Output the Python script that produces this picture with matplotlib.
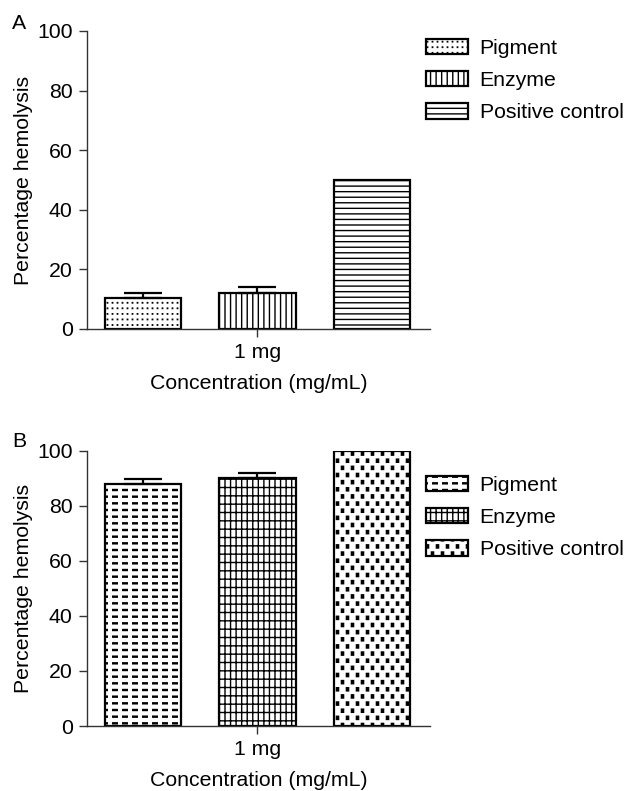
import numpy as np
import matplotlib
matplotlib.use('Agg')
import matplotlib.pyplot as plt
import matplotlib.hatch as mhatch
from matplotlib.path import Path

# data
groups = ['Pigment', 'Enzyme', 'Positive control']
tick_label = '1 mg'
hemo_a = [10.5, 12.0, 50.0]
err_a = [1.5, 2.0, 0.0]
hemo_b = [88.0, 90.0, 100.0]
err_b = [1.8, 1.8, 0.0]

DPI = 100
LW_HATCH = 1.0
shrink = LW_HATCH * DPI / 72.0  # stroke grows every shape by about one hatch linewidth


# tiled filled rectangles for the patterns matplotlib does not have
# (hatch tile is DPI pixels wide, sizes below are in pixels)
class TileHatch(mhatch.HatchPatternBase):
    key = ''
    nx = 1
    ny = 1
    w = 1.0
    h = 1.0
    stagger = False

    def __init__(self, hatch, density):
        self.on = self.key in hatch
        self.num_vertices = 5 * self.nx * self.ny if self.on else 0

    def set_vertices_and_codes(self, vertices, codes):
        hw = max(self.w - shrink, 0.05) / DPI / 2
        hh = max(self.h - shrink, 0.05) / DPI / 2
        k = 0
        for j in range(self.ny):
            cy = (j + 0.5) / self.ny
            for i in range(self.nx):
                if self.stagger:
                    cx = (i + 0.25 + 0.5 * (j % 2)) / self.nx
                else:
                    cx = (i + 0.5) / self.nx
                vertices[k:k + 5] = [[cx - hw, cy - hh], [cx + hw, cy - hh],
                                     [cx + hw, cy + hh], [cx - hw, cy + hh],
                                     [cx - hw, cy - hh]]
                codes[k:k + 5] = [Path.MOVETO, Path.LINETO, Path.LINETO,
                                  Path.LINETO, Path.CLOSEPOLY]
                k += 5


class DotTiles(TileHatch):
    key = '.'
    nx, ny = 20, 18
    w, h = 1.8, 1.8


class DashTiles(TileHatch):
    key = 'o'
    nx, ny = 10, 15
    w, h = 6.0, 2.4


class BlockTiles(TileHatch):
    key = 'O'
    nx, ny = 10, 14
    w, h = 3.6, 4.6
    stagger = True


# '.', 'o', 'O' now mean dots, dashes, blocks
mhatch._hatch_types = [mhatch.HorizontalHatch, mhatch.VerticalHatch,
                       mhatch.NorthEastHatch, mhatch.SouthEastHatch,
                       DotTiles, DashTiles, BlockTiles]

plt.rcParams['font.family'] = ['Liberation Sans', 'DejaVu Sans']
plt.rcParams['font.size'] = 15.3
plt.rcParams['hatch.linewidth'] = LW_HATCH
plt.rcParams['hatch.color'] = 'black'

fig = plt.figure(figsize=(6.25, 7.91), dpi=DPI)
W, H = 625.0, 791.0


def panel(box, values, errs, hatches, leg_top, letter, letter_y):
    ax = fig.add_axes([box[0] / W, 1 - box[3] / H, (box[2] - box[0]) / W, (box[3] - box[1]) / H])
    x = np.arange(len(groups))
    for i in range(len(groups)):
        ax.bar(x[i], values[i], width=0.67, color='white', edgecolor='black',
               linewidth=1.6, hatch=hatches[i], label=groups[i], zorder=2)
        if errs[i] > 0:
            ax.errorbar(x[i], values[i], yerr=[[0], [errs[i]]], fmt='none',
                        ecolor='black', elinewidth=1.6, capsize=14, capthick=1.6, zorder=3)
    ax.set_xlim(-0.489, 2.507)
    ax.set_ylim(0, 100)
    ax.set_yticks([0, 20, 40, 60, 80, 100])
    ax.set_xticks([1])
    ax.set_xticklabels([tick_label])
    for s in ['top', 'right']:
        ax.spines[s].set_visible(False)
    for s in ['left', 'bottom']:
        ax.spines[s].set_linewidth(1.0)
        ax.spines[s].set_color('#333333')
    ax.tick_params(direction='out', length=5.8, width=1.0, color='#333333', pad=4.5)
    ax.set_ylabel('Percentage hemolysis', labelpad=3)
    ax.set_xlabel('Concentration (mg/mL)', labelpad=8.5)
    ax.legend(loc='upper left', bbox_to_anchor=(426 / W, 1 - leg_top / H),
              bbox_transform=fig.transFigure, frameon=False, borderpad=0,
              borderaxespad=0, handlelength=1.97, handleheight=0.72,
              handletextpad=0.55, labelspacing=0.62)
    fig.text(12 / W, 1 - letter_y / H, letter, va='top', ha='left')
    return ax


# boxes are pixel edges: left, top, right, bottom
axA = panel((87, 31, 430, 329), hemo_a, err_a, ['.', '|||', '---'], 39, 'A', 14)
axB = panel((87, 450.7, 430, 726), hemo_b, err_b, ['o', '|||--', 'O'], 476, 'B', 432)

fig.savefig('out.png', dpi=DPI)
